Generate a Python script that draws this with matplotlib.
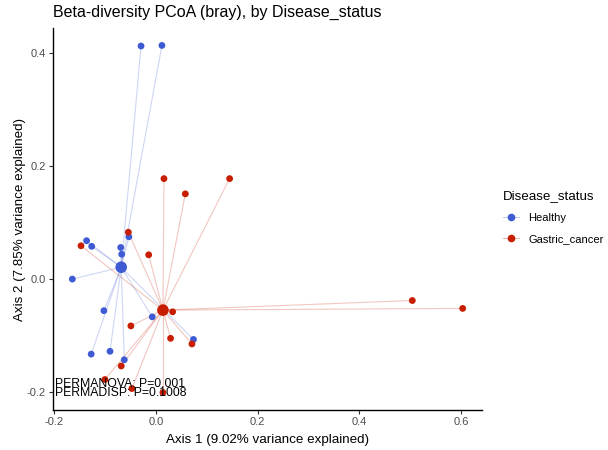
import matplotlib
matplotlib.use("Agg")
import matplotlib.pyplot as plt
from matplotlib.lines import Line2D

plt.rcParams['font.family'] = ['Liberation Sans', 'DejaVu Sans']

# PCoA coordinates
healthy_x = [-0.029, 0.012, -0.136, -0.126, -0.069, -0.067, -0.053, -0.164,
             -0.102, -0.007, 0.074, -0.127, -0.090, -0.062]
healthy_y = [0.413, 0.414, 0.068, 0.058, 0.056, 0.044, 0.075, 0.000,
             -0.056, -0.067, -0.107, -0.133, -0.128, -0.143]
healthy_centroid = (-0.068, 0.021)

cancer_x = [-0.054, -0.147, -0.014, 0.033, -0.049, 0.029, 0.071, -0.068,
            -0.100, -0.047, 0.014, 0.016, 0.058, 0.145, 0.504, 0.603]
cancer_y = [0.083, 0.059, 0.043, -0.058, -0.083, -0.105, -0.115, -0.154,
            -0.178, -0.194, -0.201, 0.178, 0.151, 0.178, -0.038, -0.052]
cancer_centroid = (0.014, -0.055)

groups = ["Healthy", "Gastric_cancer"]
colors = {"Healthy": "#3E5BD3", "Gastric_cancer": "#C81E00"}

x_ticks = [-0.2, 0.0, 0.2, 0.4, 0.6]
y_ticks = [-0.2, 0.0, 0.2, 0.4]

fig = plt.figure(figsize=(6.08, 4.5), dpi=100)
ax = fig.add_axes([0.0872, 0.0889, 0.7056, 0.849])

data = {
    "Healthy": (healthy_x, healthy_y, healthy_centroid),
    "Gastric_cancer": (cancer_x, cancer_y, cancer_centroid),
}

# spider lines from centroid to each sample
for g in groups:
    xs, ys, (cx, cy) = data[g]
    for x, y in zip(xs, ys):
        ax.plot([cx, x], [cy, y], color=colors[g], alpha=0.25, lw=0.8, zorder=1)

for g in groups:
    xs, ys, (cx, cy) = data[g]
    ax.scatter(xs, ys, s=24, color=colors[g], edgecolors='none', zorder=3)
    ax.scatter([cx], [cy], s=70, color=colors[g], edgecolors='none', zorder=3)

ax.text(-0.198, -0.186, "PERMANOVA: P=0.001", fontsize=8.8, color='black',
        ha='left', va='center', zorder=4)
ax.text(-0.198, -0.2025, "PERMADISP: P=0.1008", fontsize=8.8, color='black',
        ha='left', va='center', zorder=4)

ax.set_xlim(-0.202, 0.641)
ax.set_ylim(-0.232, 0.445)
ax.set_xticks(x_ticks)
ax.set_xticklabels(["-0.2", "0.0", "0.2", "0.4", "0.6"])
ax.set_yticks(y_ticks)
ax.set_yticklabels(["-0.2", "0.0", "0.2", "0.4"])
ax.tick_params(colors='#333333', labelcolor='#4D4D4D', labelsize=8,
               length=3, width=0.8, pad=2)
for s in ["top", "right"]:
    ax.spines[s].set_visible(False)
for s in ["left", "bottom"]:
    ax.spines[s].set_linewidth(1.0)
    ax.spines[s].set_color('black')

ax.set_xlabel("Axis 1 (9.02% variance explained)", fontsize=9.6, labelpad=5)
ax.set_ylabel("Axis 2 (7.85% variance explained)", fontsize=9.6, labelpad=0.5)
fig.text(0.087, 0.972, "Beta-diversity PCoA (bray), by Disease_status",
         fontsize=9.6 * 1.2, ha='left', va='center')

# legend keys: faint line with a solid point on top
handles = []
for g in groups:
    seg = Line2D([0], [0], color=colors[g], alpha=0.3, lw=0.8)
    pt = Line2D([0], [0], color=colors[g], lw=0, marker='o', markersize=5.5,
                markeredgewidth=0)
    handles.append((seg, pt))
leg = fig.legend(handles, groups, loc='upper left', bbox_to_anchor=(0.827, 0.578),
                 frameon=False, title="Disease_status", fontsize=8,
                 title_fontsize=9.6, handlelength=1.5, labelspacing=1.0,
                 borderpad=0, borderaxespad=0, handletextpad=0.8,
                 alignment='left')

fig.savefig("out.png", dpi=100)
